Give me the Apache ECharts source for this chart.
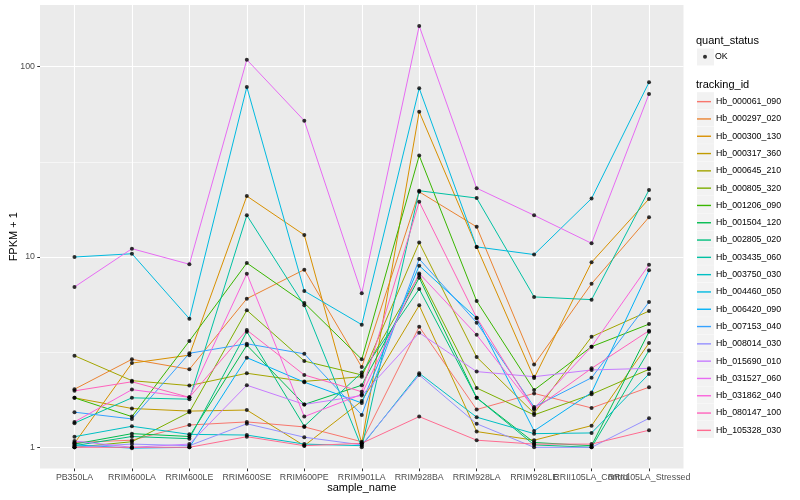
<!DOCTYPE html>
<html><head><meta charset="utf-8">
<script src="https://cdn.jsdelivr.net/npm/echarts@6/dist/echarts.min.js"></script>
<style>html,body{margin:0;padding:0;background:#fff}#c{width:800px;height:500px}</style>
</head><body><div id="c"></div>
<script>
const categories = ['PB350LA','RRIM600LA','RRIM600LE','RRIM600SE','RRIM600PE','RRIM901LA','RRIM928BA','RRIM928LA','RRIM928LE','RRII105LA_Control','RRII105LA_Stressed'];
const trackingIds = ['Hb_000061_090','Hb_000297_020','Hb_000300_130','Hb_000317_360','Hb_000645_210','Hb_000805_320','Hb_001206_090','Hb_001504_120','Hb_002805_020','Hb_003435_060','Hb_003750_030','Hb_004460_050','Hb_006420_090','Hb_007153_040','Hb_008014_030','Hb_015690_010','Hb_031527_060','Hb_031862_040','Hb_080147_100','Hb_105328_030'];
const colors = ['#F8766D','#EA8331','#D89000','#C09B00','#A3A500','#7CAE00','#39B600','#00BB4E','#00BF7D','#00C1A3','#00BFC4','#00BAE0','#00B0F6','#35A2FF','#9590FF','#C77CFF','#E76BF3','#FA62DB','#FF62BC','#FF6C91'];

// FPKM + 1 values, one array per tracking_id, in category order
const hb_000061_090 = [1.06, 1.09, 1.31, 1.36, 1.28, 1.07, 4.3, 1.58, 1.92, 1.61, 2.07];
const hb_000297_020 = [2.02, 2.9, 2.57, 6.04, 8.58, 2.64, 22, 14.4, 2.72, 7.24, 16.2];
const hb_000300_130 = [1.05, 2.77, 3.05, 20.9, 13.05, 1.05, 58, 11.3, 2.31, 9.38, 20.2];
const hb_000317_360 = [1.82, 1.6, 1.55, 1.57, 1.02, 1.75, 5.57, 1.21, 1.09, 1.3, 3.53];
const hb_000645_210 = [3.03, 2.24, 2.11, 2.45, 2.22, 2.35, 11.9, 2.98, 1.51, 3.81, 5.2];
const hb_000805_320 = [1.0, 1.07, 1.53, 5.25, 2.84, 2.4, 8.04, 2.05, 1.48, 1.9, 2.57];
const hb_001206_090 = [1.82, 1.45, 3.62, 9.3, 5.73, 2.9, 34.1, 5.87, 2.0, 3.38, 4.44];
const hb_001504_120 = [1.04, 1.18, 1.14, 3.44, 1.68, 2.12, 7.78, 1.82, 1.06, 1.02, 4.05];
const hb_002805_020 = [1.02, 1.14, 1.11, 4.05, 1.29, 2.47, 6.79, 1.82, 1.03, 1.0, 3.23];
const hb_003435_060 = [1.34, 1.82, 1.79, 16.56, 5.57, 1.0, 22.3, 20.4, 6.17, 5.97, 22.5];
const hb_003750_030 = [1.137, 1.29, 1.17, 1.16, 1.04, 1.02, 2.45, 1.44, 1.18, 1.19, 2.43];
const hb_004460_050 = [10.0, 10.4, 4.74, 78.2, 6.63, 4.41, 77, 11.3, 10.3, 20.3, 82.8];
const hb_006420_090 = [1.03, 0.99, 1.0, 2.96, 2.2, 1.71, 9.0, 4.77, 1.22, 1.94, 8.51];
const hb_007153_040 = [1.53, 1.41, 3.12, 3.5, 3.1, 1.48, 9.76, 4.52, 1.63, 2.32, 5.8];
const hb_008014_030 = [1.0, 1.04, 1.02, 1.33, 1.13, 1.03, 2.4, 1.33, 1.0, 1.0, 1.42];
const hb_015690_010 = [1.08, 1.0, 1.04, 2.12, 1.68, 1.87, 4.0, 2.5, 2.35, 2.55, 2.6];
const hb_031527_060 = [6.96, 11.06, 9.16, 108.8, 52, 6.45, 163.7, 23, 16.56, 11.8, 71.9];
const hb_031862_040 = [1.36, 2.01, 1.83, 8.17, 1.45, 1.9, 8.2, 3.9, 1.6, 3.38, 9.11];
const hb_080147_100 = [1.98, 2.21, 1.83, 4.13, 2.4, 1.96, 19.5, 4.8, 1.58, 2.6, 4.1];
const hb_105328_030 = [1.0, 1.0, 1.0, 1.137, 1.02, 1.05, 1.45, 1.09, 1.04, 1.04, 1.23];

const seriesValues = [hb_000061_090, hb_000297_020, hb_000300_130, hb_000317_360, hb_000645_210, hb_000805_320, hb_001206_090, hb_001504_120, hb_002805_020, hb_003435_060, hb_003750_030, hb_004460_050, hb_006420_090, hb_007153_040, hb_008014_030, hb_015690_010, hb_031527_060, hb_031862_040, hb_080147_100, hb_105328_030];

const FONT = '"Liberation Sans", Arial, Helvetica, sans-serif';
// panel layout (ggplot-like): gray panel, categories with 0.6-step expansion
const H = 500, W = 800;
const panel = {x: 40, y: 5, w: 643.5, h: 463.5};
const Y_MIN = 0.774, Y_MAX = 210.9;
const step = panel.w / (categories.length - 1 + 1.2);
const mainLeft = panel.x + 0.1 * step, mainRight = W - (panel.x + panel.w - 0.1 * step);
const lMin = Math.log10(Y_MIN), lMax = Math.log10(Y_MAX);
const yOfLog = L => panel.y + panel.h * (lMax - L) / (lMax - lMin);

const hiddenAxis = (extra) => Object.assign({
  axisLine: {show: false}, axisTick: {show: false}, axisLabel: {show: false}, splitLine: {show: false}, silent: true
}, extra);
const whiteLine = w => ({show: true, lineStyle: {color: '#ffffff', width: w, type: 'solid'}, showMinLine: true, showMaxLine: true});

const lineSeries = trackingIds.map((id, k) => ({
  name: id, type: 'line', data: seriesValues[k], symbol: 'none', showSymbol: false,
  lineStyle: {width: 1, color: colors[k]}, itemStyle: {color: colors[k]},
  z: 3, silent: true, animation: false
}));
const okPoints = [];
seriesValues.forEach(vals => vals.forEach((v, i) => okPoints.push([categories[i], v])));

const lineIcon = 'path://M0,0 H16 V1.6 H0 Z';
const legendBoxes = [{type: 'rect', shape: {x: 697, y: 48.5, width: 17, height: 17}, style: {fill: '#F2F2F2'}, silent: true, z: -10}];
trackingIds.forEach((id, k) => legendBoxes.push({type: 'rect', shape: {x: 697, y: 92.2 + 17.3 * k, width: 17, height: 17}, style: {fill: '#F2F2F2'}, silent: true, z: -10}));

const chart = echarts.init(document.getElementById('c'), null, {renderer: 'canvas'});
chart.setOption({
  animation: false,
  backgroundColor: '#ffffff',
  textStyle: {fontFamily: FONT},
  graphic: [
    {type: 'rect', shape: {x: panel.x, y: panel.y, width: panel.w, height: panel.h}, style: {fill: '#EBEBEB'}, z: -10, silent: true},
    ...legendBoxes
  ],
  title: [
    {text: 'quant_status', left: 696, top: 34.5, padding: 0, textStyle: {fontFamily: FONT, fontSize: 11, fontWeight: 'normal', color: '#000', lineHeight: 13}},
    {text: 'tracking_id', left: 696, top: 78.5, padding: 0, textStyle: {fontFamily: FONT, fontSize: 11, fontWeight: 'normal', color: '#000', lineHeight: 13}}
  ],
  legend: [
    {data: ['OK'], left: 703, top: 52.25, orient: 'vertical', padding: 0, itemWidth: 10, itemHeight: 4, icon: 'circle', selectedMode: false,
     textStyle: {fontFamily: FONT, fontSize: 8.8, color: '#000'}},
    {data: trackingIds, left: 697, top: 97.15, orient: 'vertical', padding: 0, itemWidth: 14, itemHeight: 12, itemGap: 8.3, icon: lineIcon, selectedMode: false,
     textStyle: {fontFamily: FONT, fontSize: 8.8, color: '#000'}}
  ],
  grid: [
    {left: mainLeft, right: mainRight, top: panel.y, bottom: H - panel.y - panel.h, outerBoundsMode: 'none', containLabel: false},
    {left: panel.x, right: W - panel.x - panel.w, top: yOfLog(1.5), bottom: H - yOfLog(0.5), outerBoundsMode: 'none', containLabel: false},
    {left: panel.x, right: W - panel.x - panel.w, top: yOfLog(2), bottom: H - yOfLog(0), outerBoundsMode: 'none', containLabel: false},
    {left: mainLeft + step / 2, right: mainRight + step / 2, top: panel.y, bottom: H - panel.y - panel.h, outerBoundsMode: 'none', containLabel: false}
  ],
  xAxis: [
    {
      gridIndex: 0, type: 'category', data: categories, boundaryGap: true,
      name: 'sample_name', nameLocation: 'middle', nameGap: 14, nameMoveOverlap: false,
      nameTextStyle: {fontFamily: FONT, fontSize: 11, color: '#000'},
      axisLine: {show: false},
      axisTick: {show: true, alignWithLabel: true, length: 2.75, lineStyle: {color: '#333333', width: 1}},
      axisLabel: {interval: 0, margin: 5, fontFamily: FONT, fontSize: 8.8, color: '#4D4D4D', hideOverlap: false},
      splitLine: {show: false}
    },
    hiddenAxis({gridIndex: 1, type: 'value', min: 0, max: 1}),
    hiddenAxis({gridIndex: 2, type: 'value', min: 0, max: 1}),
    hiddenAxis({gridIndex: 3, type: 'value', min: 0, max: categories.length - 1, interval: 1, splitLine: whiteLine(1.1)})
  ],
  yAxis: [
    {
      gridIndex: 0, type: 'log', logBase: 10, min: Y_MIN, max: Y_MAX, offset: mainLeft - panel.x,
      name: 'FPKM + 1', nameLocation: 'middle', nameGap: 21, nameMoveOverlap: false,
      nameTextStyle: {fontFamily: FONT, fontSize: 11, color: '#000'},
      axisLine: {show: false},
      axisTick: {show: true, length: 2.75, lineStyle: {color: '#333333', width: 1}},
      axisLabel: {margin: 5, fontFamily: FONT, fontSize: 8.8, color: '#4D4D4D', showMinLabel: false, showMaxLabel: false},
      splitLine: {show: false}, minorSplitLine: {show: false}
    },
    hiddenAxis({gridIndex: 1, type: 'value', min: 0.5, max: 1.5, interval: 1, splitLine: whiteLine(0.55)}),
    hiddenAxis({gridIndex: 2, type: 'value', min: 0, max: 2, interval: 1, splitLine: whiteLine(1.1)}),
    hiddenAxis({gridIndex: 3, type: 'value', min: 0, max: 1})
  ],
  series: [
    ...lineSeries,
    {name: 'OK', type: 'scatter', data: okPoints, symbol: 'circle', symbolSize: 4, itemStyle: {color: '#000'}, z: 5, silent: true}
  ]
});
</script></body></html>
